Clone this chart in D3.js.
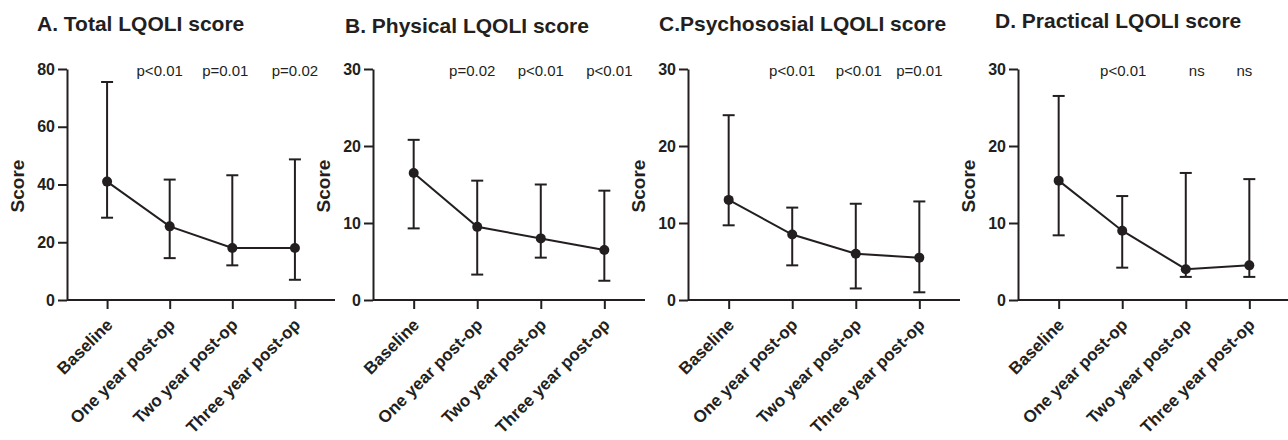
<!DOCTYPE html>
<html>
<head>
<meta charset="utf-8">
<script src="https://cdn.jsdelivr.net/npm/d3@7"></script>
<style>
  body { margin: 0; background: #fff; }
  svg { display: block; font-family: "Liberation Sans", Arial, sans-serif; }
</style>
</head>
<body>
<div id="chart"></div>
<script>
// values (median with error bar low / high)
const categories = ["Baseline", "One year post-op", "Two year post-op", "Three year post-op"];

const totalMid = [41, 25.5, 18, 18];
const totalLow = [28.5, 14.5, 12, 7];
const totalHigh = [75.5, 41.7, 43.2, 48.7];
const totalP = ["p<0.01", "p=0.01", "p=0.02"];
const totalTicks = [0, 20, 40, 60, 80];

const physMid = [16.5, 9.5, 8, 6.5];
const physLow = [9.3, 3.3, 5.5, 2.5];
const physHigh = [20.8, 15.5, 15, 14.2];
const physP = ["p=0.02", "p<0.01", "p<0.01"];

const psyMid = [13, 8.5, 6, 5.5];
const psyLow = [9.7, 4.5, 1.5, 1];
const psyHigh = [24, 12, 12.5, 12.8];
const psyP = ["p<0.01", "p<0.01", "p=0.01"];

const pracMid = [15.5, 9, 4, 4.5];
const pracLow = [8.4, 4.2, 3, 3];
const pracHigh = [26.5, 13.5, 16.5, 15.7];
const pracP = ["p<0.01", "ns", "ns"];

const subTicks = [0, 10, 20, 30];

const ink = "#231f20";
const W = 1288, H = 440;
const yTop = 69, yBottom = 300;

var svg = d3.select("#chart")
  .append("svg")
    .attr("width", W)
    .attr("height", H);

// layout for each panel
var panels = [
  { title: "A. Total LQOLI score", tx: 37, ty: 31, x0: 67, x1: 335, max: 80, ticks: totalTicks,
    mid: totalMid, low: totalLow, high: totalHigh, p: totalP, pdx: [-10, -7, 0] },
  { title: "B. Physical LQOLI score", tx: 345, ty: 33, x0: 373, x1: 645, max: 30, ticks: subTicks,
    mid: physMid, low: physLow, high: physHigh, p: physP, pdx: [-5, 0, 5] },
  { title: "C.Psychososial LQOLI score", tx: 659, ty: 31, x0: 688, x1: 960, max: 30, ticks: subTicks,
    mid: psyMid, low: psyLow, high: psyHigh, p: psyP, pdx: [0, 3, 0] },
  { title: "D. Practical LQOLI score", tx: 995, ty: 28, x0: 1018, x1: 1290, max: 30, ticks: subTicks,
    mid: pracMid, low: pracLow, high: pracHigh, p: pracP, pdx: [1, 11, -5] }
];

function drawPanel(pn) {
  var g = svg.append("g");
  var x = d3.scalePoint(categories, [pn.x0, pn.x1]).padding(0.64);
  var y = d3.scaleLinear([0, pn.max], [yBottom, yTop]);

  // title
  g.append("text")
    .attr("x", pn.tx)
    .attr("y", pn.ty)
    .attr("font-size", "21px")
    .attr("font-weight", "bold")
    .attr("fill", ink)
    .text(pn.title);

  // y axis
  var ya = g.append("g")
    .attr("transform", `translate(${pn.x0},0)`)
    .call(d3.axisLeft(y).tickValues(pn.ticks).tickSize(9).tickSizeOuter(0).tickPadding(3));
  ya.select(".domain").attr("stroke", ink).attr("stroke-width", 2);
  ya.selectAll(".tick line").attr("stroke", ink).attr("stroke-width", 2);
  ya.selectAll(".tick text")
    .attr("font-size", "16px")
    .attr("font-weight", "bold")
    .attr("fill", ink)
    .attr("font-family", "Liberation Sans, Arial, sans-serif");

  // x axis
  var xa = g.append("g")
    .attr("transform", `translate(0,${yBottom})`)
    .call(d3.axisBottom(x).tickSize(9).tickSizeOuter(0));
  xa.select(".domain")
    .attr("d", `M${pn.x0},0H${pn.x1}`)
    .attr("stroke", ink).attr("stroke-width", 2);
  xa.selectAll(".tick line").attr("stroke", ink).attr("stroke-width", 2);
  xa.selectAll(".tick text")
    .attr("font-size", "17px")
    .attr("font-weight", "bold")
    .attr("fill", ink)
    .attr("font-family", "Liberation Sans, Arial, sans-serif")
    .attr("text-anchor", "end")
    .attr("dy", null)
    .attr("y", null)
    .attr("transform", "translate(6,26) rotate(-45)");

  // y label
  g.append("text")
    .attr("transform", `translate(${pn.x0 - 43},186) rotate(-90)`)
    .attr("text-anchor", "middle")
    .attr("font-size", "19px")
    .attr("font-weight", "bold")
    .attr("fill", ink)
    .text("Score");

  // p values above the post-op points
  g.selectAll(".pval")
    .data(pn.p)
    .join("text")
    .attr("class", "pval")
    .attr("x", (d, i) => x(categories[i + 1]) + pn.pdx[i])
    .attr("y", 76)
    .attr("text-anchor", "middle")
    .attr("font-size", "15px")
    .attr("fill", ink)
    .text(d => d);

  var rows = categories.map((c, i) => ({ c: c, mid: pn.mid[i], low: pn.low[i], high: pn.high[i] }));

  // error bars
  g.selectAll(".bar")
    .data(rows)
    .join("line")
    .attr("x1", d => x(d.c))
    .attr("x2", d => x(d.c))
    .attr("y1", d => y(d.low))
    .attr("y2", d => y(d.high))
    .attr("stroke", ink)
    .attr("stroke-width", 2);
  g.selectAll(".capHi")
    .data(rows)
    .join("line")
    .attr("x1", d => x(d.c) - 6)
    .attr("x2", d => x(d.c) + 6)
    .attr("y1", d => y(d.high))
    .attr("y2", d => y(d.high))
    .attr("stroke", ink)
    .attr("stroke-width", 2);
  g.selectAll(".capLo")
    .data(rows)
    .join("line")
    .attr("x1", d => x(d.c) - 6)
    .attr("x2", d => x(d.c) + 6)
    .attr("y1", d => y(d.low))
    .attr("y2", d => y(d.low))
    .attr("stroke", ink)
    .attr("stroke-width", 2);

  // connecting line
  var line = d3.line()
    .x(d => x(d.c))
    .y(d => y(d.mid));
  g.append("path")
    .datum(rows)
    .attr("fill", "none")
    .attr("stroke", ink)
    .attr("stroke-width", 2)
    .attr("d", line);

  // points
  g.selectAll(".dot")
    .data(rows)
    .join("circle")
    .attr("cx", d => x(d.c))
    .attr("cy", d => y(d.mid))
    .attr("r", 5)
    .attr("fill", ink);
}

panels.forEach(drawPanel);
</script>
</body>
</html>
